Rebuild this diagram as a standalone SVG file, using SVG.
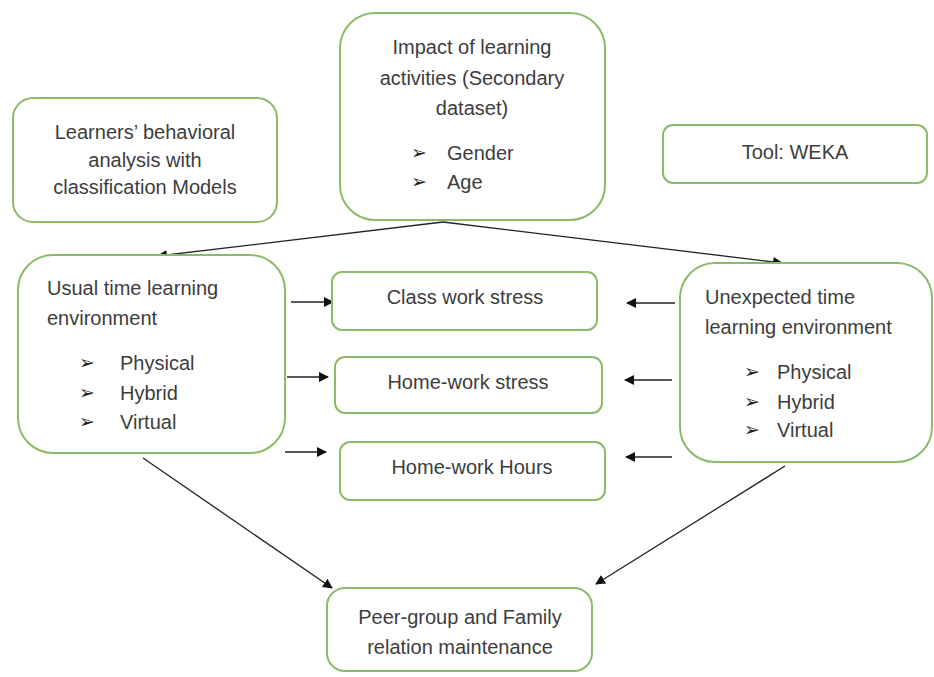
<svg xmlns="http://www.w3.org/2000/svg" width="934" height="677" viewBox="0 0 934 677">
<style>
.box{fill:#ffffff;stroke:#8cba68;stroke-width:2}
.t{font-family:"Liberation Sans",Arial,sans-serif;font-size:20px;fill:#3d3d3d}
.c{text-anchor:middle}
.b{font-family:"DejaVu Sans",sans-serif;font-size:19px;fill:#222}
.ln{stroke:#222;stroke-width:1.3;fill:none}
</style>
<defs>
<marker id="ah" viewBox="0 0 10 10" refX="9" refY="5" markerWidth="10" markerHeight="10" markerUnits="userSpaceOnUse" orient="auto">
<path d="M0,0 L10,5 L0,10 z" fill="#111"/>
</marker>
</defs>
<rect width="934" height="677" fill="#ffffff"/>
<g id="connectors">
<path class="ln" d="M443,222 L158,256" marker-end="url(#ah)"/>
<path class="ln" d="M443,222 L782,263" marker-end="url(#ah)"/>
<path class="ln" d="M291,302 L333,302" marker-end="url(#ah)"/>
<path class="ln" d="M287,377 L328,377" marker-end="url(#ah)"/>
<path class="ln" d="M285,452 L326,452" marker-end="url(#ah)"/>
<path class="ln" d="M675,303 L627,303" marker-end="url(#ah)"/>
<path class="ln" d="M672,380 L625,380" marker-end="url(#ah)"/>
<path class="ln" d="M672,457 L626,457" marker-end="url(#ah)"/>
<path class="ln" d="M143,458 L332,588" marker-end="url(#ah)"/>
<path class="ln" d="M785,466 L596,584" marker-end="url(#ah)"/>
</g>
<g id="learners">
<rect class="box" x="13" y="98" width="264" height="124" rx="20"/>
<text class="t c" x="145" y="139">Learners’ behavioral</text>
<text class="t c" x="145" y="167">analysis with</text>
<text class="t c" x="145" y="194">classification Models</text>
</g>
<g id="impact">
<rect class="box" x="340" y="13" width="265" height="207" rx="35"/>
<text class="t c" x="472" y="54">Impact of learning</text>
<text class="t c" x="472" y="85">activities (Secondary</text>
<text class="t c" x="472" y="115">dataset)</text>
<text class="b" x="411" y="159">➢</text>
<text class="t" x="447" y="160">Gender</text>
<text class="b" x="411" y="188">➢</text>
<text class="t" x="447" y="189">Age</text>
</g>
<g id="tool">
<rect class="box" x="663" y="125" width="264" height="58" rx="10"/>
<text class="t c" x="795" y="159">Tool: WEKA</text>
</g>
<g id="usual">
<rect class="box" x="18" y="255" width="267" height="198" rx="35"/>
<text class="t" x="47" y="295">Usual time learning</text>
<text class="t" x="47" y="325">environment</text>
<text class="b" x="79" y="369">➢</text>
<text class="t" x="120" y="370">Physical</text>
<text class="b" x="79" y="399">➢</text>
<text class="t" x="120" y="400">Hybrid</text>
<text class="b" x="79" y="428">➢</text>
<text class="t" x="120" y="429">Virtual</text>
</g>
<g id="classwork">
<rect class="box" x="332" y="272" width="265" height="58" rx="10"/>
<text class="t c" x="465" y="304">Class work stress</text>
</g>
<g id="homeworkstress">
<rect class="box" x="335" y="357" width="267" height="56" rx="10"/>
<text class="t c" x="468" y="389">Home-work stress</text>
</g>
<g id="homeworkhours">
<rect class="box" x="340" y="442" width="265" height="58" rx="10"/>
<text class="t c" x="472" y="474">Home-work Hours</text>
</g>
<g id="unexpected">
<rect class="box" x="680" y="263" width="252" height="199" rx="35"/>
<text class="t" x="705" y="304">Unexpected time</text>
<text class="t" x="705" y="334">learning environment</text>
<text class="b" x="744" y="378">➢</text>
<text class="t" x="777" y="379">Physical</text>
<text class="b" x="744" y="408">➢</text>
<text class="t" x="777" y="409">Hybrid</text>
<text class="b" x="744" y="436">➢</text>
<text class="t" x="777" y="437">Virtual</text>
</g>
<g id="peer">
<rect class="box" x="327" y="588" width="265" height="83" rx="18"/>
<text class="t c" x="460" y="624">Peer-group and Family</text>
<text class="t c" x="460" y="654">relation maintenance</text>
</g>
</svg>
